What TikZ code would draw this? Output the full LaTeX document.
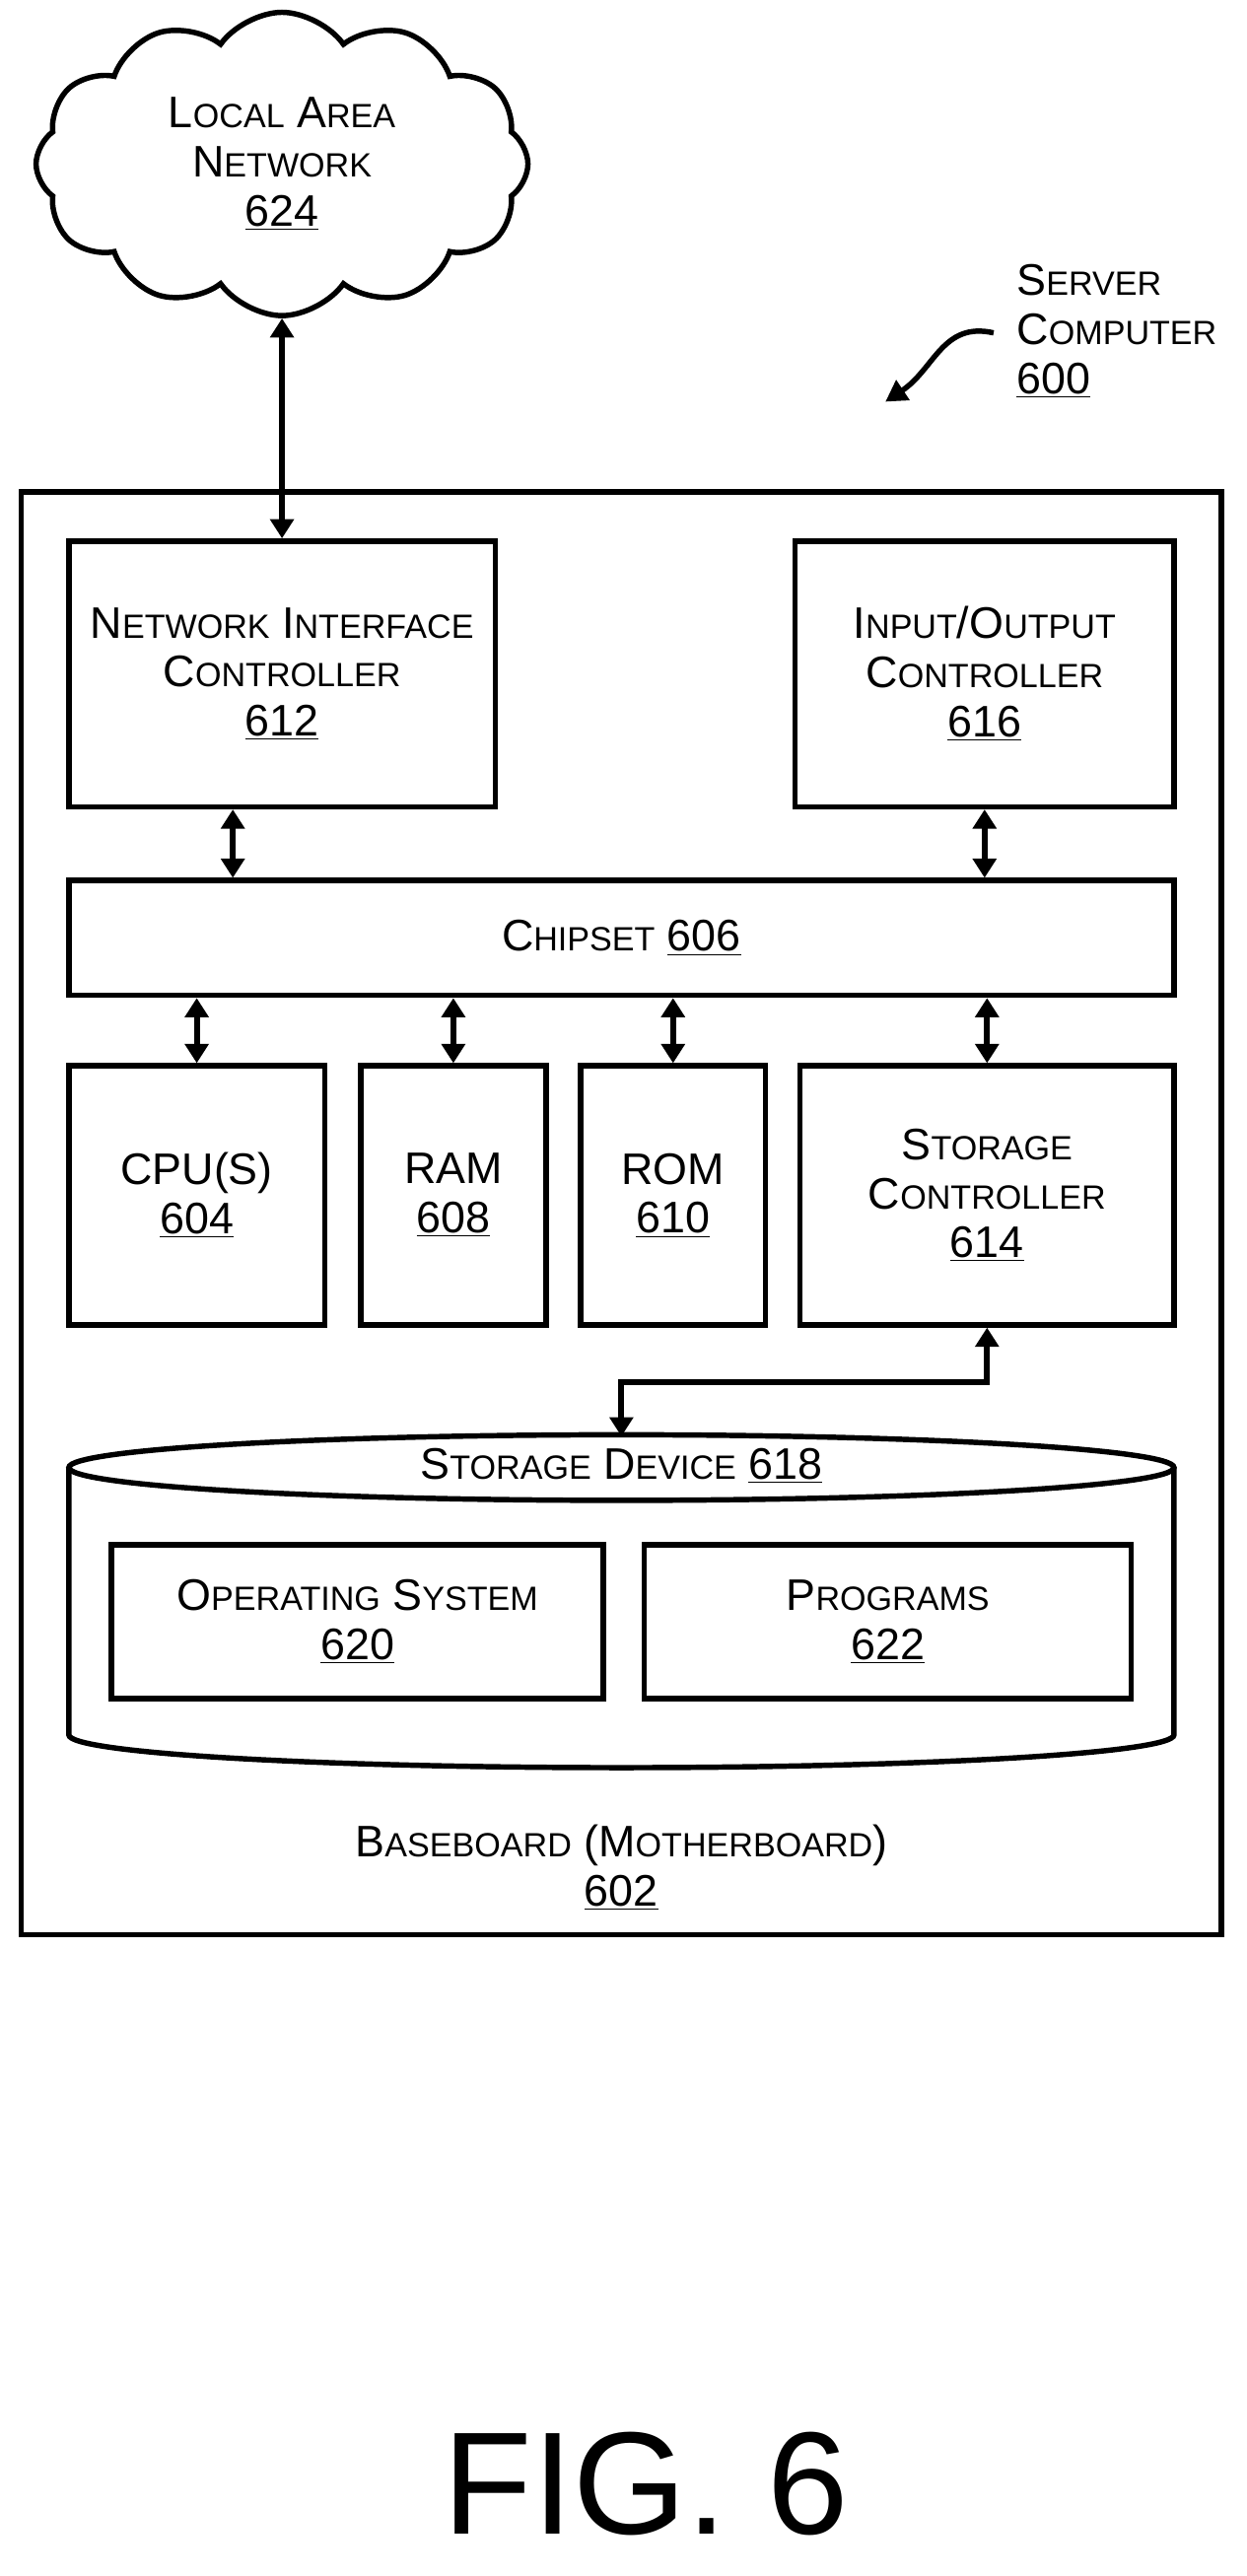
\documentclass[tikz,border=0pt]{standalone}
\usepackage{fontspec}
\setmainfont{Liberation Sans}
\usetikzlibrary{shapes.symbols,arrows.meta}
\newcommand\sm[1]{{\fontsize{17.5}{25.5}\selectfont #1}}
\tikzset{
  box/.style={draw, line width=2.8pt, align=center, inner sep=0pt},
  lbl/.style={align=center, font=\fontsize{23}{25.5}\selectfont},
  dbl/.style={line width=3pt, {Triangle[length=10pt,width=12pt]}-{Triangle[length=10pt,width=12pt]}},
}
\begin{document}
\begin{tikzpicture}[x=0.03cm, y=-0.03cm]
\useasboundingbox (0,0) rectangle (760,1571);
% cloud
\node[cloud, draw, line width=2.8pt, cloud puffs=12, cloud puff arc=110, aspect=1.6,
  minimum width=300*0.03cm, minimum height=185*0.03cm, lbl] (lan) at (172,100)
  {L\sm{OCAL} A\sm{REA}\\N\sm{ETWORK}\\\underline{624}};
% server label
\node[lbl, align=left, anchor=west] (srv) at (616,202) {S\sm{ERVER}\\C\sm{OMPUTER}\\\underline{600}};
\draw[line width=2.8pt, -{Triangle[length=11pt,width=12pt]}] (606,203) .. controls (575,196) and (570,225) .. (540,245);
% baseboard
\draw[line width=2.8pt] (13,300) rectangle (745,1180);
\node[lbl] (base) at (379,1139) {B\sm{ASEBOARD} (M\sm{OTHERBOARD})\\\underline{602}};
% boxes
\node[box, lbl, minimum width=260*0.03cm, minimum height=162*0.03cm] (nic) at (172,411) {N\sm{ETWORK} I\sm{NTERFACE}\\C\sm{ONTROLLER}\\\underline{612}};
\node[box, lbl, minimum width=231*0.03cm, minimum height=162*0.03cm] (io) at (600.5,411) {I\sm{NPUT}/O\sm{UTPUT}\\C\sm{ONTROLLER}\\\underline{616}};
\node[box, lbl, minimum width=674*0.03cm, minimum height=70*0.03cm] (chip) at (379,572) {C\sm{HIPSET} \underline{606}};
\node[box, lbl, minimum width=156*0.03cm, minimum height=158*0.03cm] (cpu) at (120,729) {CPU(S)\\\underline{604}};
\node[box, lbl, minimum width=113*0.03cm, minimum height=158*0.03cm] (ram) at (276.5,729) {RAM\\\underline{608}};
\node[box, lbl, minimum width=113*0.03cm, minimum height=158*0.03cm] (rom) at (410.5,729) {ROM\\\underline{610}};
\node[box, lbl, minimum width=228*0.03cm, minimum height=158*0.03cm] (sc) at (602,729) {S\sm{TORAGE}\\C\sm{ONTROLLER}\\\underline{614}};
% storage device
\draw[line width=2.8pt] (379,895) ellipse [x radius=337, y radius=20];
\draw[line width=2.8pt] (42,895) -- (42,1058) arc[start angle=180, end angle=0, x radius=337, y radius=20] -- (716,895);
\node[lbl] (sd) at (379,894) {S\sm{TORAGE} D\sm{EVICE} \underline{618}};
\coordinate (sdtop) at (379,876);
\node[box, lbl, minimum width=300*0.03cm, minimum height=94*0.03cm] (os) at (218,989) {O\sm{PERATING} S\sm{YSTEM}\\\underline{620}};
\node[box, lbl, minimum width=297*0.03cm, minimum height=94*0.03cm] (prog) at (541.5,989) {P\sm{ROGRAMS}\\\underline{622}};
% connectors
\draw[dbl] (lan.south) -- (nic.north);
\draw[dbl] ([xshift=-30*0.03cm]nic.south) -- ([xshift=-30*0.03cm]nic.south |- chip.north);
\draw[dbl] (io.south) -- (io.south |- chip.north);
\draw[dbl] (cpu.north) -- (cpu.north |- chip.south);
\draw[dbl] (ram.north) -- (ram.north |- chip.south);
\draw[dbl] (rom.north) -- (rom.north |- chip.south);
\draw[dbl] (sc.north) -- (sc.north |- chip.south);
\draw[dbl] (sc.south) |- (379,843) -- (sdtop);
% figure label
\node[font=\fontsize{76}{80}\selectfont] (fig) at (394,1515) {FIG. 6};
\end{tikzpicture}
\end{document}
